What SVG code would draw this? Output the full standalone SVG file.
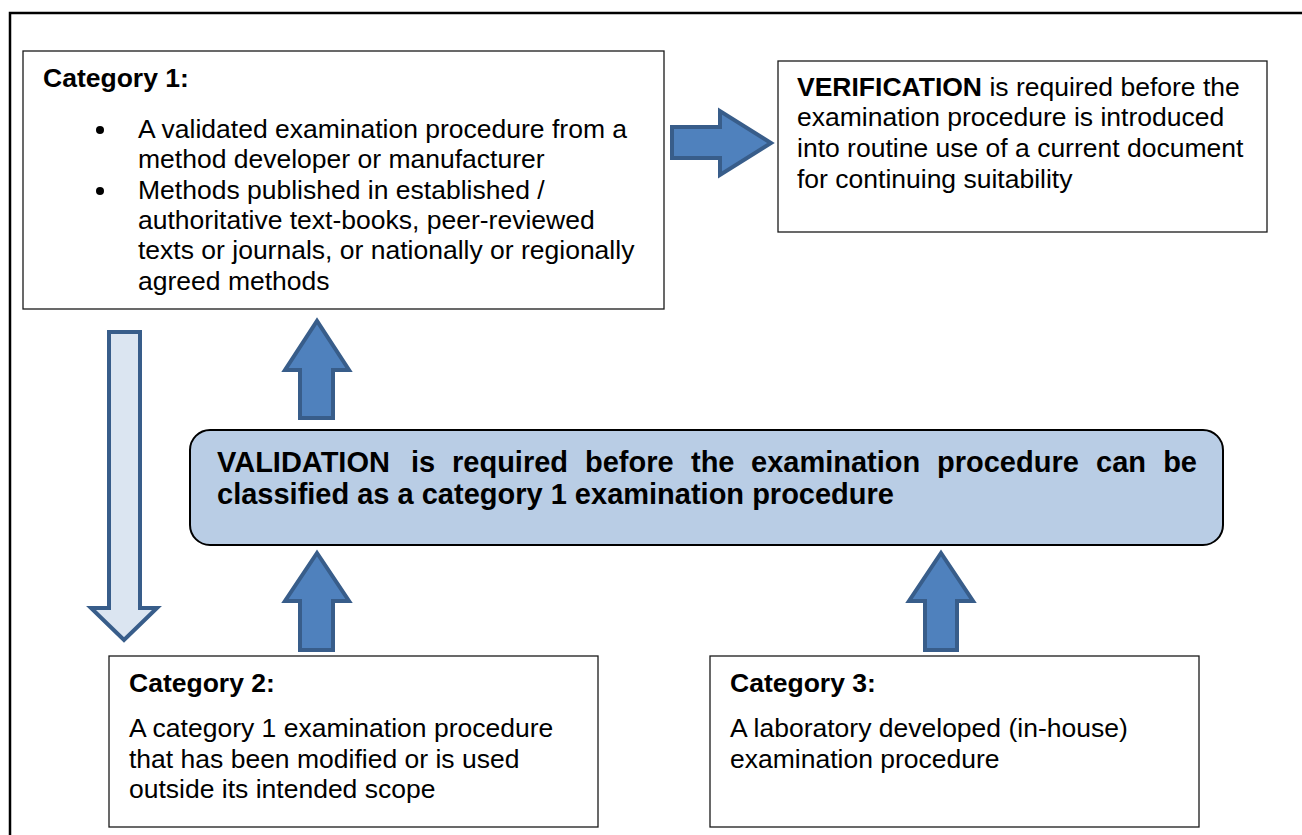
<svg xmlns="http://www.w3.org/2000/svg" width="1302" height="835" viewBox="0 0 1302 835">
<style>
.box{fill:#fff;stroke:#1a1a1a;stroke-width:1.3}
.t{font-family:"Liberation Sans",Arial,sans-serif;font-size:26.5px;fill:#000}
.b{font-weight:bold}
.v{font-family:"Liberation Sans",Arial,sans-serif;font-size:29px;font-weight:bold;fill:#000}
.arr{fill:#4f81bd;stroke:#385d8a;stroke-width:4;stroke-linejoin:miter}
.arrl{fill:#dbe5f1;stroke:#385d8a;stroke-width:4}
</style>
<rect x="0" y="0" width="1302" height="835" fill="#fff"/>
<rect x="10" y="13" width="1320" height="850" fill="none" stroke="#000" stroke-width="2.5"/>
<g id="cat1">
<rect class="box" x="23" y="51" width="641" height="258"/>
<text class="t b" x="43" y="87">Category 1:</text>
<circle cx="100" cy="130" r="4" fill="#000"/>
<circle cx="100" cy="191" r="4" fill="#000"/>
<text class="t"><tspan x="138" y="138">A validated examination procedure from a</tspan><tspan x="138" y="168">method developer or manufacturer</tspan><tspan x="138" y="199">Methods published in established /</tspan><tspan x="138" y="229">authoritative text-books, peer-reviewed</tspan><tspan x="138" y="259">texts or journals, or nationally or regionally</tspan><tspan x="138" y="290">agreed methods</tspan></text>
</g>
<g id="verification">
<rect class="box" x="778" y="61" width="489" height="171"/>
<text class="t"><tspan x="797" y="96"><tspan class="b">VERIFICATION</tspan> is required before the</tspan><tspan x="797" y="126">examination procedure is introduced</tspan><tspan x="797" y="157">into routine use of a current document</tspan><tspan x="797" y="188">for continuing suitability</tspan></text>
</g>
<g id="validation">
<rect x="190" y="430" width="1033" height="115" rx="20" ry="20" fill="#b9cde5" stroke="#000" stroke-width="2"/>
<text class="v" y="472"><tspan x="217">VALIDATION</tspan><tspan x="411">is</tspan><tspan x="452">required</tspan><tspan x="585">before</tspan><tspan x="691">the</tspan><tspan x="751">examination</tspan><tspan x="937">procedure</tspan><tspan x="1096">can</tspan></text>
<text class="v" x="1197" y="472" text-anchor="end">be</text>
<text class="v" x="217" y="504">classified as a category 1 examination procedure</text>
</g>
<g id="cat2">
<rect class="box" x="109" y="656" width="489" height="171"/>
<text class="t b" x="129" y="692">Category 2:</text>
<text class="t"><tspan x="129" y="737">A category 1 examination procedure</tspan><tspan x="129" y="768">that has been modified or is used</tspan><tspan x="129" y="798">outside its intended scope</tspan></text>
</g>
<g id="cat3">
<rect class="box" x="710" y="656" width="489" height="171"/>
<text class="t b" x="730" y="692">Category 3:</text>
<text class="t"><tspan x="730" y="737">A laboratory developed (in-house)</tspan><tspan x="730" y="768">examination procedure</tspan></text>
</g>
<g id="connectors">
<polygon class="arr" points="672,127 720,127 720,111 771,143 720,175 720,158 672,158"/>
<polygon class="arr" points="300,418 300,370 285,370 317,321 349,370 333,370 333,418"/>
<polygon class="arr" points="300,650 300,601 285,601 317,553 349,601 333,601 333,650"/>
<polygon class="arr" points="925,650 925,601 909,601 941,553 973,601 957,601 957,650"/>
<polygon class="arrl" points="109,332 140,332 140,608 157,608 124,640 91,608 109,608"/>
</g>
</svg>
